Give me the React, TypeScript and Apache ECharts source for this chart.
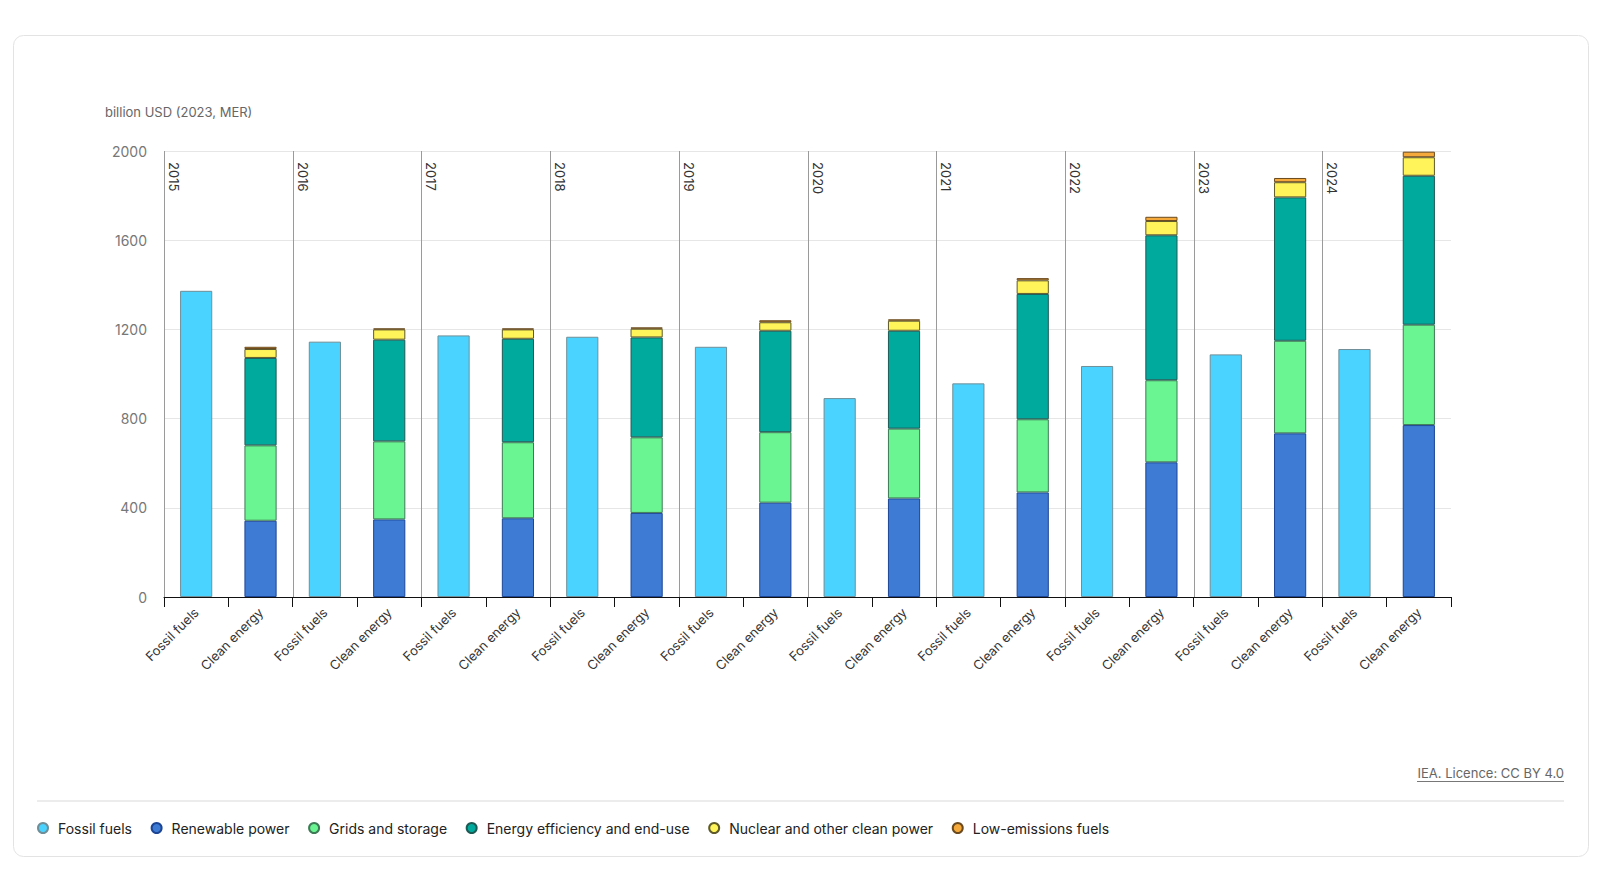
import React, { useEffect, useRef } from "react";
import * as echarts from "echarts";

const YEARS = ["2015", "2016", "2017", "2018", "2019", "2020", "2021", "2022", "2023", "2024"];
const GROUPS = ["Fossil fuels", "Clean energy"];
const Y_TICKS = [0, 400, 800, 1200, 1600, 2000];

const FOSSIL = [1373, 1145, 1173, 1167, 1122, 892, 958, 1036, 1088, 1112];
const RENEWABLE = [342, 348, 353, 377, 423, 442, 469, 604, 734, 771];
const GRIDS = [338, 350, 341, 339, 316, 313, 328, 368, 415, 450];
const EFFICIENCY = [392, 456, 464, 448, 455, 439, 562, 650, 643, 668];
const NUCLEAR = [40, 46, 42, 39, 38, 45, 61, 64, 68, 83];
const LOW_EMISSIONS = [10, 4, 4, 6, 9, 6, 10, 19, 19, 25];

const SERIES_NAMES = [
  "Fossil fuels",
  "Renewable power",
  "Grids and storage",
  "Energy efficiency and end-use",
  "Nuclear and other clean power",
  "Low-emissions fuels",
];
const COLORS = ["#4bd3ff", "#3d7bd4", "#6bf592", "#00ab9e", "#fff45a", "#f5a93a"];
const BORDERS = ["#6f8e97", "#1c4596", "#3d7a55", "#1d5a54", "#5e5a2a", "#6a4a1e"];

const FONT = 'Inter, "Noto Sans", sans-serif';

export default function App() {
  const ref = useRef<HTMLDivElement>(null);

  useEffect(() => {
    if (!ref.current) return;
    const chart = echarts.init(ref.current, null, { renderer: "svg" });

    const categories: string[] = [];
    YEARS.forEach(() => GROUPS.forEach((g) => categories.push(g)));

    const fossilData = categories.map((_, i) => (i % 2 === 0 ? FOSSIL[i / 2] : null));
    const cleanArrays = [RENEWABLE, GRIDS, EFFICIENCY, NUCLEAR, LOW_EMISSIONS];

    const barSeries: any[] = [
      {
        name: SERIES_NAMES[0],
        type: "bar",
        stack: "total",
        barWidth: "50%",
        data: fossilData,
        itemStyle: { color: COLORS[0], borderColor: BORDERS[0], borderWidth: 1 },
      },
      ...cleanArrays.map((arr, k) => ({
        name: SERIES_NAMES[k + 1],
        type: "bar",
        stack: "total",
        barWidth: "50%",
        data: categories.map((_, i) => (i % 2 === 1 ? arr[(i - 1) / 2] : null)),
        itemStyle: { color: COLORS[k + 1], borderColor: BORDERS[k + 1], borderWidth: 1 },
      })),
    ];

    const yearSeries = {
      name: "years",
      type: "custom",
      silent: true,
      z: 1,
      data: YEARS.map((_, i) => [i * 2, 0]),
      encode: { x: 0, y: 1 },
      renderItem: (params: any, api: any) => {
        const idx = api.value(0);
        const base = api.coord([idx, 0]);
        const w = api.size([1, 0])[0];
        const x = Math.round(base[0] - w / 2) + 0.5;
        const top = api.coord([idx, 2000])[1];
        return {
          type: "group",
          children: [
            {
              type: "line",
              shape: { x1: x, y1: top, x2: x, y2: base[1] },
              style: { stroke: "#9a9a9a", lineWidth: 1 },
            },
            {
              type: "text",
              x: x + 3,
              y: top + 11,
              rotation: -Math.PI / 2,
              style: {
                text: YEARS[params.dataIndex],
                fill: "#333",
                font: `13px ${FONT}`,
                align: "left",
                verticalAlign: "bottom",
              },
            },
          ],
        };
      },
    };

    chart.setOption({
      animation: false,
      backgroundColor: "#ffffff",
      textStyle: { fontFamily: FONT },
      grid: { left: 164, right: 149, top: 151, bottom: 293, containLabel: false },
      legend: {
        data: SERIES_NAMES,
        left: 32,
        top: 816,
        icon: "circle",
        itemWidth: 20,
        itemHeight: 10,
        itemGap: 18.6,
        textStyle: { fontSize: 14, color: "#222", fontFamily: FONT },
      },
      xAxis: {
        type: "category",
        data: categories,
        boundaryGap: true,
        axisLine: { show: true, lineStyle: { color: "#111", width: 1 } },
        axisTick: { show: true, length: 10, lineStyle: { color: "#111" }, interval: 0 },
        axisLabel: {
          interval: 0,
          rotate: 45,
          margin: 13,
          fontSize: 13,
          color: "#333",
          fontFamily: FONT,
        },
        splitLine: { show: false },
      },
      yAxis: {
        type: "value",
        min: Y_TICKS[0],
        max: Y_TICKS[Y_TICKS.length - 1],
        interval: Y_TICKS[1] - Y_TICKS[0],
        axisLine: { show: false },
        axisTick: { show: false },
        axisLabel: {
          fontSize: 14,
          color: "#777",
          margin: 17,
          fontFamily: FONT,
          formatter: (v: number) => String(v),
        },
        splitLine: { show: true, lineStyle: { color: "#e6e6e6", width: 1 } },
      },
      graphic: [
        {
          type: "rect",
          z: -100,
          silent: true,
          shape: { x: 13.5, y: 35.5, width: 1575, height: 821, r: 10 },
          style: { fill: "#ffffff", stroke: "#e3e3e3", lineWidth: 1 },
        },
        {
          type: "text",
          x: 105,
          y: 112,
          style: {
            text: "billion USD (2023, MER)",
            fill: "#666",
            font: `13px ${FONT}`,
            align: "left",
            verticalAlign: "middle",
          },
        },
        {
          type: "text",
          x: 1564,
          y: 773,
          style: {
            text: "IEA. Licence: CC BY 4.0",
            fill: "#666",
            font: `13px ${FONT}`,
            align: "right",
            verticalAlign: "middle",
          },
        },
        {
          type: "line",
          shape: { x1: 1417, y1: 781.5, x2: 1564, y2: 781.5 },
          style: { stroke: "#777", lineWidth: 1 },
        },
        {
          type: "line",
          shape: { x1: 37, y1: 801, x2: 1564, y2: 801 },
          style: { stroke: "#e6e6e6", lineWidth: 1.5 },
        },
      ],
      series: [...barSeries, yearSeries],
    });

    return () => chart.dispose();
  }, []);

  return (
    <div
      ref={ref}
      style={{ position: "fixed", left: 0, top: 0, width: 1600, height: 890, background: "#fff" }}
    />
  );
}
